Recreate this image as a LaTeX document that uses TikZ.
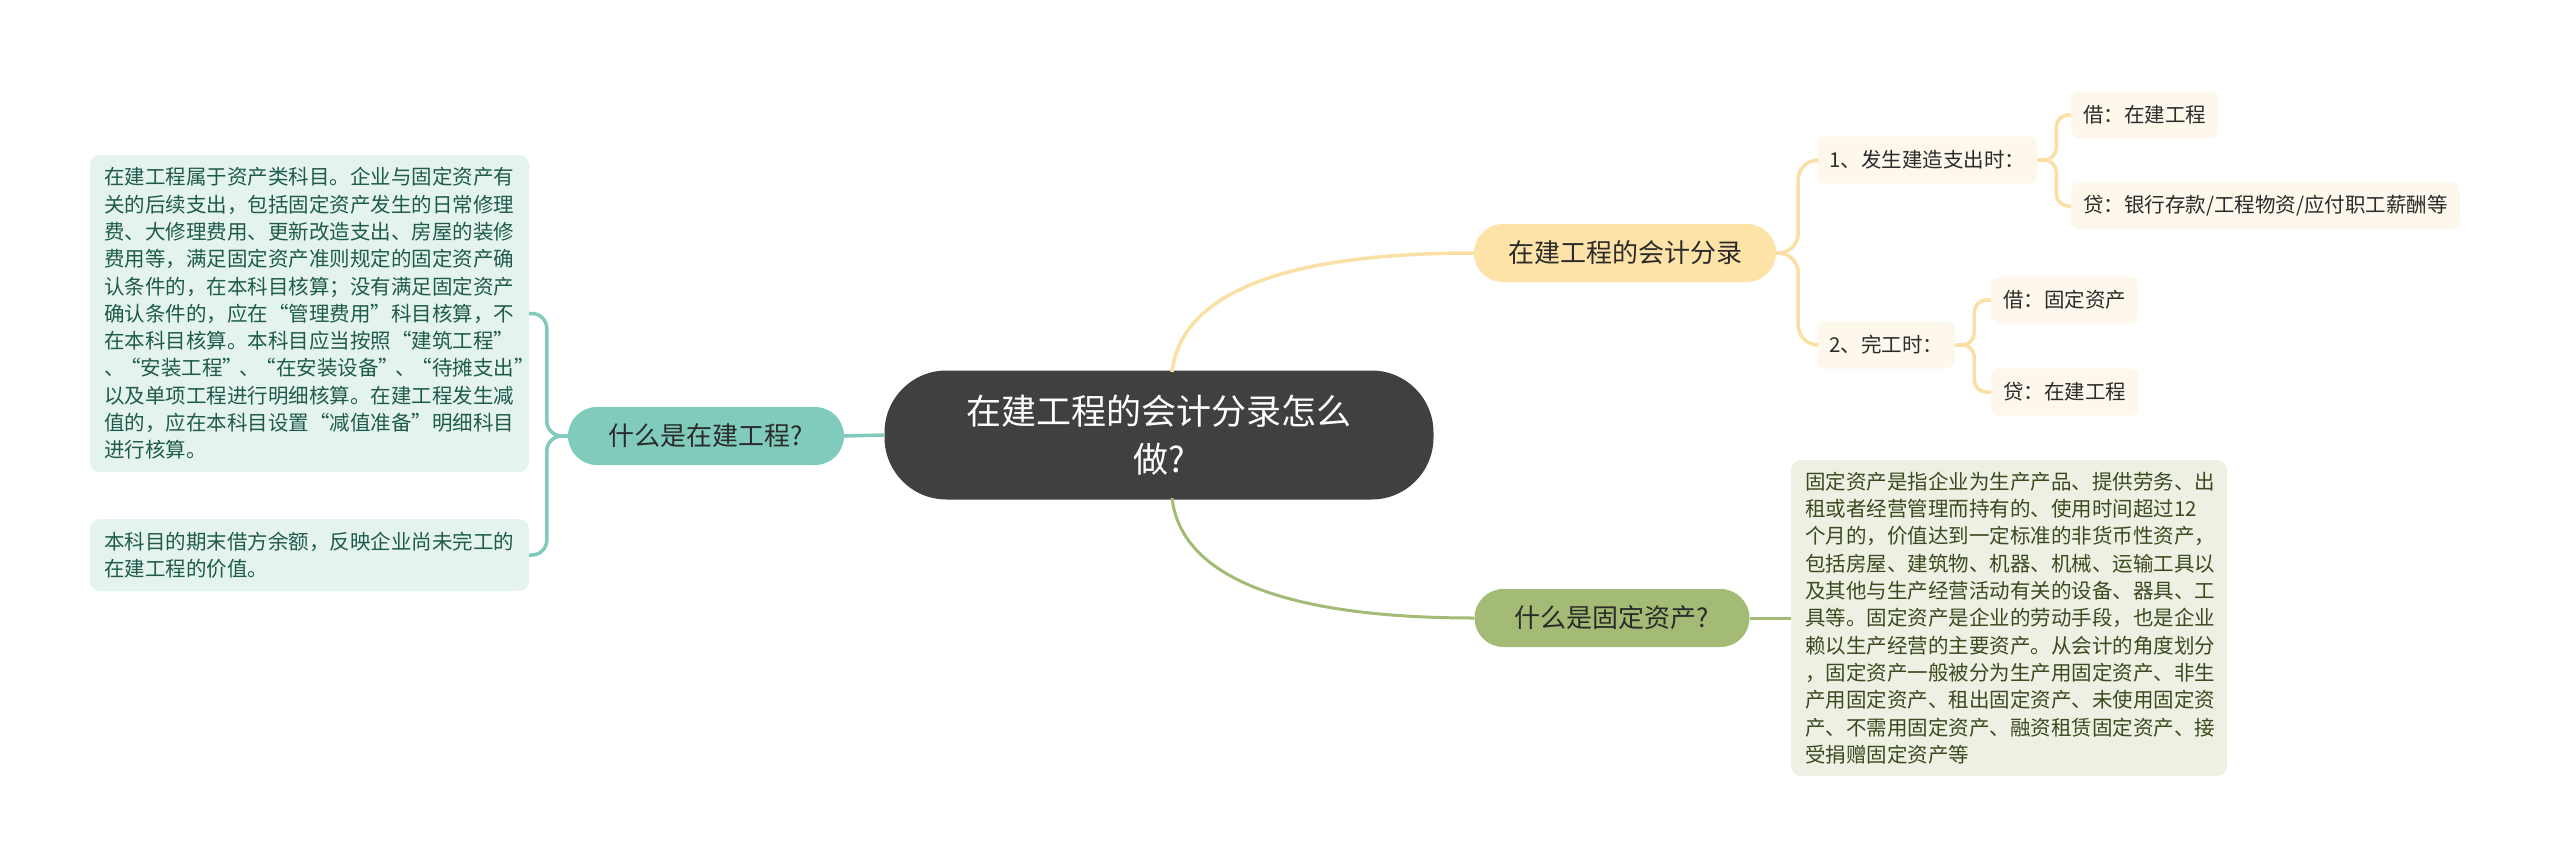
\documentclass[tikz,border=0pt]{standalone}
\usepackage{fontspec}
\setmainfont{Noto Sans CJK SC}
\usetikzlibrary{calc}
\definecolor{darkc}{HTML}{404040}
\definecolor{tealc}{HTML}{80CBBB}
\definecolor{amberc}{HTML}{FDE3A7}
\definecolor{amberl}{HTML}{FAE0A4}
\definecolor{olivec}{HTML}{A3BB74}
\definecolor{creamc}{HTML}{FDF8EB}
\definecolor{lboxc}{HTML}{E5F3EF}
\definecolor{ltextc}{HTML}{1E5B4B}
\definecolor{rboxc}{HTML}{EEF0E4}
\definecolor{rtextc}{HTML}{3B4A1F}
\definecolor{textc}{HTML}{2B2B2B}
\newcommand\myoq{\kern-0.2em“}
\newcommand\mycq{”\kern-0.2em}
\tikzset{
  centralbox/.style={fill=darkc, text=white, rounded corners=62pt, minimum width=549pt, minimum height=129pt, align=center, font=\fontsize{35}{48}\selectfont, inner sep=0pt},
  pillbox/.style={rounded corners=29pt, minimum height=58pt, inner sep=0pt, text=textc, font=\fontsize{26}{30}\selectfont},
  leafbox/.style={fill=creamc, rounded corners=8pt, minimum height=47pt, inner xsep=12pt, inner ysep=0pt, text=textc, font=\fontsize{20.5}{24}\selectfont, anchor=west},
  parabox/.style={rounded corners=10pt, align=left, inner xsep=14pt, inner ysep=0pt, font=\fontsize{20.5}{27.3}\selectfont},
  edgeA/.style={draw=amberl, line width=3.5pt},
  edgeT/.style={draw=tealc, line width=3.5pt},
  edgeO/.style={draw=olivec, line width=3pt}
}
\begin{document}
\begin{tikzpicture}[x=1pt,y=-1pt]
\useasboundingbox[fill=white] (0,0) rectangle (2560,867);

\coordinate (ctop) at (1172,372);
\coordinate (cbot) at (1172,498);

% nodes
\node[centralbox] (c) at (1159,435) {在建工程的会计分录怎么\\做?};
\node[pillbox, fill=tealc, minimum width=276pt] (t) at (706,436) {什么是在建工程?};
\node[pillbox, fill=amberc, minimum width=302pt] (a) at (1625,253) {在建工程的会计分录};
\node[pillbox, fill=olivec, minimum width=275pt] (o) at (1612,618) {什么是固定资产?};

\node[parabox, fill=lboxc, text=ltextc, text width=411pt, minimum height=317pt] (l1) at (309.5,313.5) {在建工程属于资产类科目。企业与固定资产有\\关的后续支出，包括固定资产发生的日常修理\\费、大修理费用、更新改造支出、房屋的装修\\费用等，满足固定资产准则规定的固定资产确\\认条件的，在本科目核算；没有满足固定资产\\确认条件的，应在“管理费用”科目核算，不\\在本科目核算。本科目应当按照“建筑工程”\\、\myoq 安装工程\mycq 、\myoq 在安装设备\mycq 、\myoq 待摊支出\mycq\\以及单项工程进行明细核算。在建工程发生减\\值的，应在本科目设置“减值准备”明细科目\\进行核算。};
\node[parabox, fill=lboxc, text=ltextc, text width=411pt, minimum height=72pt] (l2) at (309.5,555) {本科目的期末借方余额，反映企业尚未完工的\\在建工程的价值。};
\node[parabox, fill=rboxc, text=rtextc, text width=408pt, minimum height=316pt] (r) at (2009,618) {固定资产是指企业为生产产品、提供劳务、出\\租或者经营管理而持有的、使用时间超过12\\个月的，价值达到一定标准的非货币性资产，\\包括房屋、建筑物、机器、机械、运输工具以\\及其他与生产经营活动有关的设备、器具、工\\具等。固定资产是企业的劳动手段，也是企业\\赖以生产经营的主要资产。从会计的角度划分\\，固定资产一般被分为生产用固定资产、非生\\产用固定资产、租出固定资产、未使用固定资\\产、不需用固定资产、融资租赁固定资产、接\\受捐赠固定资产等};

\node[leafbox] (s1) at (1817,160) {1、发生建造支出时：};
\node[leafbox] (s2) at (1817,345) {2、完工时：};
\node[leafbox] (b1) at (2071,115) {借：在建工程};
\node[leafbox] (b2) at (2071,206) {贷：银行存款/工程物资/应付职工薪酬等};
\node[leafbox] (b3) at (1991,300) {借：固定资产};
\node[leafbox] (b4) at (1991,392) {贷：在建工程};

% connectors
\draw[edgeA] (ctop) .. controls +(10,-85) and +(-175,0) .. (a.west);
\draw[edgeO] (cbot) .. controls +(10,85) and +(-175,0) .. (o.west);
\draw[edgeT] (t.east) -- (c.west);
\draw[edgeT, rounded corners=15pt] (t.west) -- ++(-21,0) |- (l1.east);
\draw[edgeT, rounded corners=15pt] (t.west) -- ++(-21,0) |- (l2.east);
\draw[edgeA, rounded corners=20pt] (a.east) -- ++(22,0) |- (s1.west);
\draw[edgeA, rounded corners=20pt] (a.east) -- ++(22,0) |- (s2.west);
\draw[edgeA, rounded corners=12pt] (s1.east) -- ++(19,0) |- (b1.west);
\draw[edgeA, rounded corners=12pt] (s1.east) -- ++(19,0) |- (b2.west);
\draw[edgeA, rounded corners=12pt] (s2.east) -- ++(19,0) |- (b3.west);
\draw[edgeA, rounded corners=12pt] (s2.east) -- ++(19,0) |- (b4.west);
\draw[edgeO] (o.east) -- (r.west);
\end{tikzpicture}
\end{document}
